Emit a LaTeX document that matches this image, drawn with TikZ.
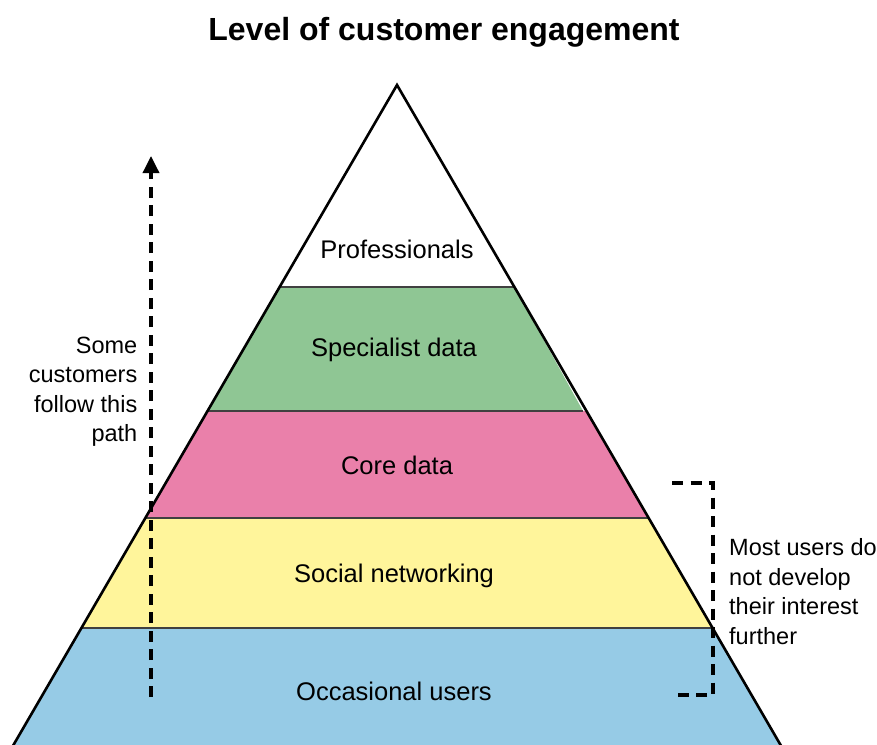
\documentclass[tikz,border=0pt]{standalone}
\usepackage{fontspec}
\setmainfont{Liberation Sans}
\usetikzlibrary{arrows.meta}

\definecolor{proGreen}{RGB}{143,198,148}
\definecolor{corePink}{RGB}{234,128,170}
\definecolor{socYellow}{RGB}{255,245,155}
\definecolor{occBlue}{RGB}{150,203,230}

\tikzset{
  bandline/.style={draw=black!75, line width=1.3pt},
  dashline/.style={line width=3.5pt, dash pattern=on 11pt off 7.5pt},
  bandlabel/.style={font=\fontsize{25.5}{30}\selectfont},
  sidetext/.style={font=\fontsize{23.5}{29.5}\selectfont, inner sep=0pt}
}

\begin{document}
\begin{tikzpicture}[x=1pt, y=-1pt]
\useasboundingbox (0,0) rectangle (877,744);

% -------- bands of the pyramid -----------
\fill[proGreen]  (279.6,287) -- (514.4,287) -- (583,411) -- (207.5,411) -- cycle;
\fill[corePink]  (207.5,411) -- (586.5,411) -- (648.7,518) -- (145.3,518) -- cycle;
\fill[socYellow] (145.3,518) -- (648.7,518) -- (712.6,628) -- (81.4,628) -- cycle;
\fill[occBlue]   (81.4,628) -- (712.6,628) -- (790,760) -- (4,760) -- cycle;

\draw[bandline] (279.6,287) -- (514.4,287);
\draw[bandline] (207.5,411) -- (583,411);
\draw[bandline] (145.3,518) -- (648.7,518);
\draw[bandline] (81.4,628) -- (712.6,628);

\draw[line width=2.6pt, line join=miter] (4.7,760) -- (397,85) -- (789.3,760);

% -------- labels -----------
\node (title) at (444,32) {\fontsize{32}{36}\selectfont\bfseries Level of customer engagement};
\node[bandlabel] (professionals) at (397,249) {Professionals};
\node[bandlabel] (specialist) at (394,350) {Specialist data};
\node[bandlabel] (core) at (397,465) {Core data};
\node[bandlabel] (social) at (394,576) {Social networking};
\node[bandlabel] (occasional) at (394,691) {Occasional users};

\node[sidetext, align=right, anchor=east] (somepath) at (137.5,391.5) {Some\\customers\\follow this\\path};
\node[sidetext, align=left, anchor=west] (mostusers) at (729,591.5) {Most users do\\not develop\\their interest\\further};

% -------- path arrow and bracket -----------
\coordinate (pathstart) at (151,697);
\coordinate (pathend) at (151,156);
\draw[dashline, -{Triangle[length=17pt, width=16pt]}] (pathstart) -- (pathend);

\coordinate (bracketTop) at (672,483);
\coordinate (bracketBot) at (672,695);
\draw[dashline] (bracketTop) -- ++(41,0) |- (bracketBot);

\end{tikzpicture}
\end{document}
